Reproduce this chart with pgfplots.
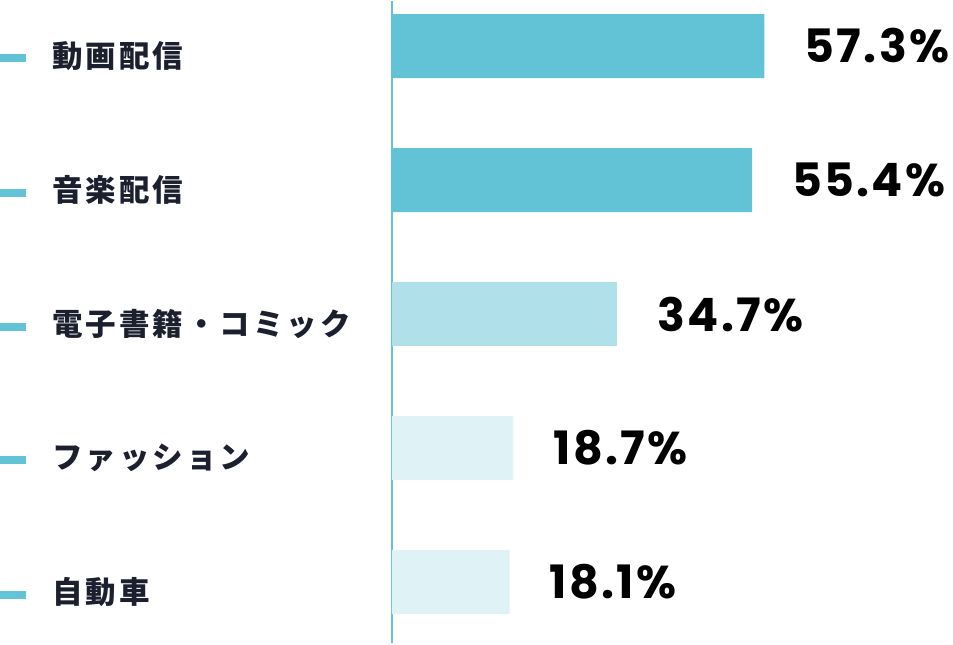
\documentclass[border=0pt]{standalone}
\usepackage{pgfplots}
\pgfplotsset{compat=1.18}
\usepackage{fontspec}
\setmainfont{Poppins}
\newfontfamily\jp{Noto Sans CJK JP}[LetterSpace=10]
\newfontfamily\val{Poppins}[LetterSpace=5]

\definecolor{barA}{HTML}{62C3D6}
\definecolor{barB}{HTML}{B0E1EA}
\definecolor{barC}{HTML}{DFF2F6}
\definecolor{labtxt}{HTML}{1B1F2E}

% label with the small cyan dash in front
\newcommand{\lab}[1]{\textcolor{barA}{\rule[5pt]{26pt}{8pt}}\hspace{26pt}{\jp\bfseries\fontsize{30.5pt}{30.5pt}\selectfont\color{labtxt}#1}}

\begin{document}
\begin{tikzpicture}
\begin{axis}[
    xbar, bar width=64pt, bar shift=0pt,
    scale only axis,
    width=561pt, height=642pt,
    xmin=0, xmax=86.3,
    ymin=-0.336, ymax=4.455,
    y dir=reverse,
    axis x line=none,
    axis y line*=left,
    y axis line style={draw=barA, line width=2pt},
    ytick={0,1,2,3,4},
    yticklabels={\lab{動画配信},\lab{音楽配信},\lab{電子書籍・コミック},\lab{ファッション},\lab{自動車}},
    yticklabel style={anchor=west, inner sep=0pt, xshift=-392pt, yshift=-10pt},
    major tick length=0pt,
    ytick style={draw=none},
    clip=false,
    /pgf/number format/assume math mode=true,
    nodes near coords={\pgfmathprintnumber[fixed,precision=1,fixed zerofill]{\pgfplotspointmeta}\%},
    nodes near coords style={anchor=west, inner sep=0pt, xshift=40pt,
        font=\val\bfseries\fontsize{46pt}{46pt}\selectfont, text=black},
]
\addplot[fill=barA, draw=none, bar shift=0pt] coordinates {(57.3,0) (55.4,1)};
\addplot[fill=barB, draw=none, bar shift=0pt] coordinates {(34.7,2)};
\addplot[fill=barC, draw=none, bar shift=0pt] coordinates {(18.7,3) (18.1,4)};
% keep the full axis box inside the picture
\path (rel axis cs:0,0) rectangle (rel axis cs:1,1);
\end{axis}
\end{tikzpicture}
\end{document}
